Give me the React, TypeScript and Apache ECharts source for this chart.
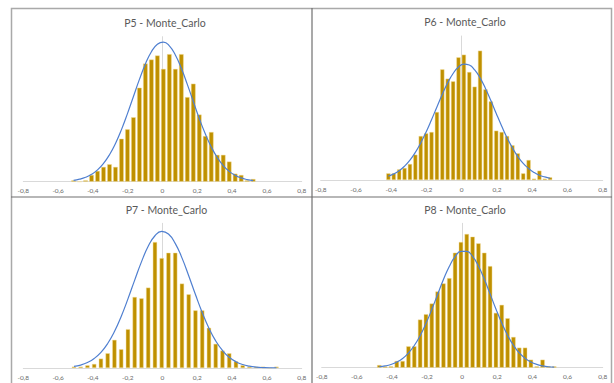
import React, { useEffect, useRef } from "react";
import * as echarts from "echarts";

// ---- data ----
const panelTitles = ["P5 - Monte_Carlo", "P6 - Monte_Carlo", "P7 - Monte_Carlo", "P8 - Monte_Carlo"];
const tickValues = [-0.8, -0.6, -0.4, -0.2, 0, 0.2, 0.4, 0.6, 0.8];
const tickLabels = ["-0,8", "-0,6", "-0,4", "-0,2", "0", "0,2", "0,4", "0,6", "0,8"];

// histogram bins (first bin centre, bin width)
const p5BinStart = -0.511;
const p5BinWidth = 0.0344;
const p5Counts = [1, 0, 1, 5, 8, 11, 13, 11, 32, 39, 48, 70, 88, 91, 94, 84, 95, 84, 95, 63, 73, 50, 34, 37, 20, 20, 15, 6, 5, 1, 2];
const p5Normal = [1.0, 1.9, 3.3, 5.5, 8.8, 13.6, 20.1, 28.5, 38.8, 50.7, 63.5, 76.2, 87.7, 96.8, 102.4, 104.0, 101.2, 94.4, 84.5, 72.5, 59.7, 47.1, 35.7, 25.9, 18.0, 12.0, 7.7, 4.7, 2.8, 1.6, 0.8];

const p6BinStart = -0.416;
const p6BinWidth = 0.0306;
const p6Counts = [5, 5, 8, 9, 12, 19, 33, 35, 36, 51, 83, 76, 74, 92, 94, 81, 70, 97, 68, 59, 37, 36, 33, 26, 20, 5, 15, 1, 7, 1, 2];
const p6Normal = [2.9, 4.6, 7.0, 10.4, 14.9, 20.7, 27.8, 36.0, 45.2, 54.8, 64.3, 72.9, 79.9, 84.8, 86.9, 86.2, 82.6, 76.6, 68.7, 59.6, 49.9, 40.5, 31.7, 24.1, 17.6, 12.5, 8.6, 5.7, 3.6, 2.3, 1.3];

const p7BinStart = -0.509;
const p7BinWidth = 0.0388;
const p7Counts = [1, 1, 2, 3, 7, 11, 21, 14, 29, 53, 52, 60, 94, 82, 86, 86, 63, 55, 43, 43, 30, 18, 13, 11, 5, 2, 1, 1, 1, 0, 1];
const p7Normal = [1.2, 2.2, 4.1, 7.1, 11.7, 18.3, 27.2, 38.5, 51.6, 65.6, 79.2, 90.8, 98.7, 102.0, 100.0, 93.0, 82.2, 68.9, 54.8, 41.4, 29.7, 20.2, 13.1, 8.0, 4.7, 2.6, 1.4, 0.7, 0.3, 0.1, 0.1];

const p8BinStart = -0.472;
const p8BinWidth = 0.0332;
const p8Counts = [2, 1, 1, 5, 5, 16, 16, 36, 40, 48, 57, 63, 67, 86, 94, 100, 98, 93, 86, 76, 41, 47, 37, 23, 15, 15, 6, 1, 6, 1, 1];
const p8Normal = [0.7, 1.3, 2.4, 4.2, 6.9, 11.0, 16.6, 23.9, 33.0, 43.5, 54.8, 65.9, 75.7, 83.0, 87.0, 87.0, 83.2, 76.0, 66.3, 55.2, 43.9, 33.4, 24.2, 16.8, 11.1, 7.0, 4.3, 2.5, 1.4, 0.7, 0.4];

const yMax = 108;

// ---- layout / style ----
const grids = [
  { left: 23.3, top: 36.7, width: 278.4, height: 145 },
  { left: 320.7, top: 36, width: 282, height: 144 },
  { left: 23.3, top: 223.3, width: 278.4, height: 144.7 },
  { left: 321.7, top: 223.3, width: 281, height: 144.4 },
];
const titlePos = [
  { x: 165, y: 23 },
  { x: 465, y: 22 },
  { x: 166.5, y: 209.5 },
  { x: 465, y: 209.5 },
];
const barWidths = [4.6, 4.2, 4.3, 4.4];
const FONT = "Lato, 'Open Sans', sans-serif";

const panels = [
  { start: p5BinStart, width: p5BinWidth, counts: p5Counts, normal: p5Normal },
  { start: p6BinStart, width: p6BinWidth, counts: p6Counts, normal: p6Normal },
  { start: p7BinStart, width: p7BinWidth, counts: p7Counts, normal: p7Normal },
  { start: p8BinStart, width: p8BinWidth, counts: p8Counts, normal: p8Normal },
];

export default function App() {
  const ref = useRef<HTMLDivElement>(null);

  useEffect(() => {
    if (!ref.current) return;
    const chart = echarts.init(ref.current, null, { renderer: "svg" });

    const xAxes = panels.map((_, i) => ({
      type: "value",
      gridIndex: i,
      min: -0.8,
      max: 0.8,
      interval: 0.2,
      axisLine: { show: true, lineStyle: { color: "#d9d9d9", width: 1 } },
      axisTick: { show: false },
      splitLine: { show: false },
      axisLabel: {
        show: true,
        fontSize: 6.5,
        color: "#6a6a6a",
        fontFamily: FONT,
        margin: 5.5,
        showMinLabel: true,
        showMaxLabel: true,
        formatter: (v: number) => {
          const k = tickValues.findIndex((t) => Math.abs(t - v) < 1e-6);
          return k >= 0 ? tickLabels[k] : "";
        },
      },
    }));

    const yAxes = panels.map((_, i) => ({
      type: "value",
      gridIndex: i,
      min: 0,
      max: yMax,
      axisLine: { show: true, onZero: true, lineStyle: { color: "#d9d9d9", width: 1 } },
      axisTick: { show: false },
      axisLabel: { show: false },
      splitLine: { show: false },
    }));

    const series: any[] = [];
    panels.forEach((p, i) => {
      const centers = p.counts.map((_, k) => p.start + p.width * k);
      series.push({
        type: "bar",
        xAxisIndex: i,
        yAxisIndex: i,
        barWidth: barWidths[i],
        data: p.counts.map((c, k) => [centers[k], c]),
        itemStyle: { color: "#BF9000", borderColor: "rgba(245,222,150,0.9)", borderWidth: 0.5 },
        z: 2,
      });
      series.push({
        type: "line",
        xAxisIndex: i,
        yAxisIndex: i,
        smooth: true,
        symbol: "none",
        data: p.normal.map((v, k) => [centers[k], v]),
        lineStyle: { color: "#4f7fd0", width: 1.2 },
        z: 3,
      });
    });

    const graphic: any[] = [
      {
        type: "rect",
        shape: { x: 11.5, y: 8.5, width: 600, height: 390 },
        style: { fill: "none", stroke: "#a9a9a9", lineWidth: 1.5 },
        silent: true,
      },
      {
        type: "line",
        shape: { x1: 11, y1: 197, x2: 612, y2: 197 },
        style: { stroke: "#707070", lineWidth: 1.2 },
        silent: true,
      },
      {
        type: "line",
        shape: { x1: 312, y1: 8, x2: 312, y2: 383 },
        style: { stroke: "#707070", lineWidth: 1.2 },
        silent: true,
      },
    ];
    panelTitles.forEach((t, i) => {
      graphic.push({
        type: "text",
        x: titlePos[i].x,
        y: titlePos[i].y,
        silent: true,
        style: {
          text: t,
          fontSize: 10.5,
          fontFamily: FONT,
          fill: "#595959",
          align: "center",
          verticalAlign: "middle",
        },
      });
    });

    chart.setOption({
      animation: false,
      backgroundColor: "#ffffff",
      grid: grids.map((g) => ({ ...g, containLabel: false })),
      xAxis: xAxes,
      yAxis: yAxes,
      series,
      graphic,
    });

    return () => chart.dispose();
  }, []);

  return (
    <div
      ref={ref}
      style={{ position: "fixed", left: 0, top: 0, width: 614, height: 383, background: "#fff" }}
    />
  );
}
